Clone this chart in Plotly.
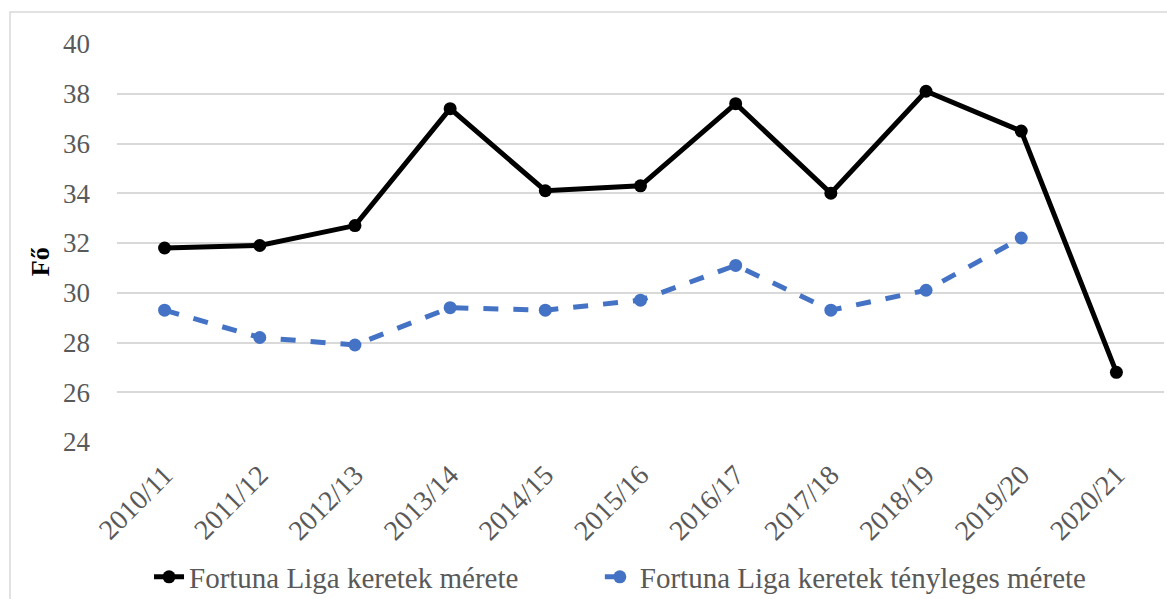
import plotly.graph_objects as go

seasons = ["2010/11", "2011/12", "2012/13", "2013/14", "2014/15", "2015/16",
           "2016/17", "2017/18", "2018/19", "2019/20", "2020/21"]
keret = [31.8, 31.9, 32.7, 37.4, 34.1, 34.3, 37.6, 34.0, 38.1, 36.5, 26.8]
tenyleges = [29.3, 28.2, 27.9, 29.4, 29.3, 29.7, 31.1, 29.3, 30.1, 32.2, None]
yticks = [24, 26, 28, 30, 32, 34, 36, 38, 40]

FONT = "Liberation Serif, Times New Roman, serif"
GRAY = "#595959"

fig = go.Figure()
fig.add_trace(go.Scatter(
    x=seasons, y=keret, mode="lines+markers",
    name="Fortuna Liga keretek mérete",
    line=dict(color="black", width=5),
    marker=dict(color="black", size=13),
    legend="legend",
))
fig.add_trace(go.Scatter(
    x=seasons, y=tenyleges, mode="lines+markers",
    name="Fortuna Liga keretek tényleges mérete",
    line=dict(color="#4472C4", width=5, dash="dash"),
    marker=dict(color="#4472C4", size=13),
    connectgaps=False,
    legend="legend2",
))

leg_common = dict(orientation="h", xref="container", yref="container",
                  xanchor="left", y=0.0367, yanchor="middle",
                  font=dict(family=FONT, size=29, color=GRAY))

fig.update_layout(
    width=1167, height=599,
    margin=dict(l=117, r=3, t=44, b=157, autoexpand=False),
    paper_bgcolor="white", plot_bgcolor="white",
    font=dict(family=FONT, size=26, color=GRAY),
    showlegend=True,
    legend=dict(x=0.1277, **leg_common),
    legend2=dict(x=0.514, **leg_common),
    shapes=[dict(type="rect", xref="paper", yref="paper",
                 x0=-0.1022, x1=1.2, y0=-0.6, y1=1.0804,
                 line=dict(color="#D9D9D9", width=1.5), layer="below")],
    annotations=[dict(text="<b>Fő</b>", xref="paper", yref="paper",
                      x=-0.0735, y=0.452, xanchor="center", yanchor="middle",
                      textangle=-90, showarrow=False,
                      font=dict(family=FONT, size=26, color="black"))],
)
fig.update_xaxes(
    type="category", range=[-0.5, len(seasons) - 0.5], tickangle=-45,
    showgrid=False, showline=False, zeroline=False,
    tickfont=dict(family=FONT, size=28, color=GRAY), ticks="", automargin=False,
    ticklabelstandoff=10,
)
fig.update_yaxes(
    range=[24, 40], tickvals=yticks, showgrid=True, gridcolor="#D9D9D9", gridwidth=1.5,
    zeroline=False, showline=False, ticks="", automargin=False,
    tickfont=dict(family=FONT, size=27, color=GRAY), ticklabelstandoff=26,
)

fig.write_html("out.html", config={"displayModeBar": False},
               post_script="document.body.style.margin='0';document.body.style.overflow='hidden';")
